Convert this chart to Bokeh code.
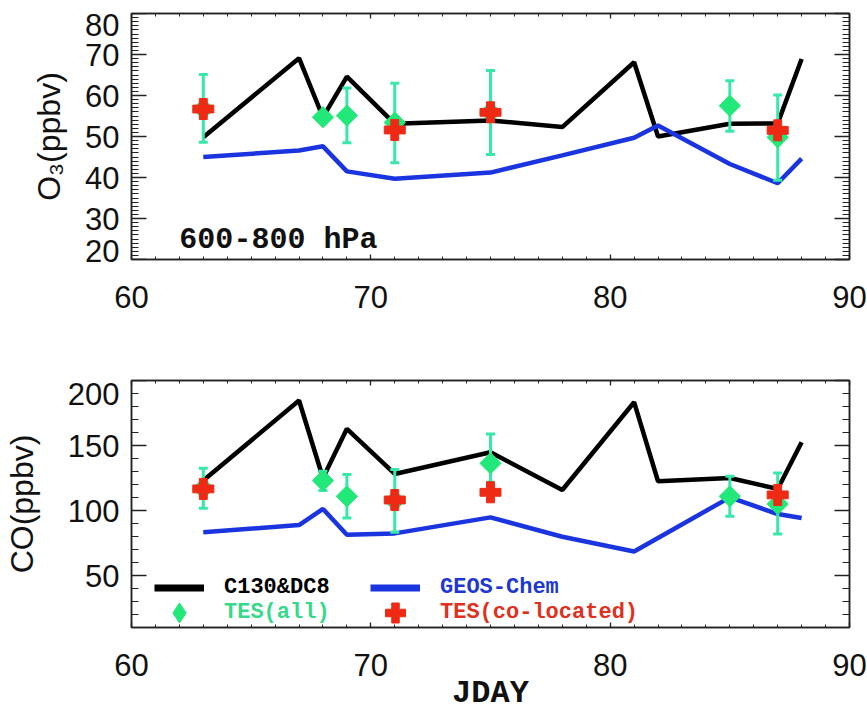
import math
from bokeh.plotting import figure
from bokeh.models import (Range1d, FixedTicker, Label, Legend, LegendItem, ColumnDataSource, LinearAxis)
from bokeh.layouts import column
from bokeh.embed import file_html
from bokeh.resources import INLINE

# ---------------- data ----------------
days = [63, 67, 68, 69, 71, 75, 78, 81, 82, 85, 87, 88]
o3_obs = [49.8, 69.1, 54.7, 64.6, 53.1, 53.9, 52.3, 68.1, 50.0, 53.1, 53.2, 68.9]
o3_model = [45.0, 46.6, 47.6, 41.5, 39.7, 41.2, 45.4, 49.7, 52.7, 43.3, 38.6, 44.6]
co_obs = [123.0, 184.6, 125.0, 162.8, 128.1, 144.8, 115.8, 183.3, 122.5, 125.0, 116.6, 152.5]
co_model_days = [63, 67, 68, 69, 71, 75, 78, 81, 85, 87, 88]
co_model = [83.2, 88.8, 101.2, 81.4, 82.4, 94.7, 79.8, 68.5, 110.1, 97.3, 94.2]

tes_days = [63, 68, 69, 71, 75, 85, 87]
o3_tes = [56.7, 54.7, 55.1, 53.4, 55.9, 57.5, 49.8]
o3_tes_low = [48.6, 53.9, 48.5, 43.6, 45.6, 51.3, 39.3]
o3_tes_high = [65.1, 55.5, 61.8, 63.0, 66.1, 63.6, 60.1]
co_tes = [117.0, 123.0, 110.9, 107.6, 136.3, 110.9, 105.0]
co_tes_low = [101.7, 115.3, 94.2, 83.2, 121.7, 95.5, 81.9]
co_tes_high = [132.5, 130.2, 127.6, 131.5, 158.9, 126.3, 128.9]

colo_days = [63, 71, 75, 87]
o3_colo = [56.7, 51.6, 55.9, 51.5]
co_colo = [116.6, 108.1, 114.0, 112.0]

x_range = [60, 90]
x_ticks = [60, 70, 80, 90]
x_minor = list(range(60, 91))
o3_range = [20, 80]
o3_ticks = [20, 30, 40, 50, 60, 70, 80]
o3_minor = list(range(20, 81))
# the end labels sit just inside the frame, as in the original
o3_label_pos = [22.1, 30, 40, 50, 60, 70, 77.1]
o3_label_text = ["20", "30", "40", "50", "60", "70", "80"]
co_range = [10, 200]
co_ticks = [50, 100, 150, 200]
co_minor = list(range(10, 201, 10))
co_label_pos = [50, 100, 150, 189.6]
co_label_text = ["50", "100", "150", "200"]

series_names = ["C130&DC8", "GEOS-Chem", "TES(all)", "TES(co-located)"]
o3_title = "O\u2083(ppbv)"
co_title = "CO(ppbv)"
x_title = "JDAY"
layer_text = "600-800 hPa"

# ---------------- style ----------------
BLACK = "#000000"
BLUE = "#1a35e0"
GREEN = "#22e87a"
MINT = "#38e8a8"
GREEN_TXT = "#36d98a"
RED = "#ee2a15"
RED_TXT = "#e03020"
BLUE_TXT = "#2038d0"
AXC = "#222222"
SANS = "Liberation Sans"
MONO = "Liberation Mono"
TICK_FS = "31px"
NAN = float("nan")
FW = 718


def tick_style(ax, tin, mtin):
    ax.major_tick_in = tin
    ax.major_tick_out = 0
    ax.minor_tick_in = mtin
    ax.minor_tick_out = 0
    ax.major_tick_line_color = AXC
    ax.major_tick_line_width = 1.3
    ax.minor_tick_line_color = AXC
    ax.minor_tick_line_width = 1
    ax.axis_line_color = AXC
    ax.axis_line_width = 1.5


def mirror_axis(ticks, minor, tin, mtin):
    ax = LinearAxis(ticker=FixedTicker(ticks=ticks, minor_ticks=minor))
    tick_style(ax, tin, mtin)
    ax.major_label_text_color = None
    ax.major_label_text_font_size = "8px"
    ax.major_label_standoff = 0
    return ax


def make_fig(yr, fh, top, bottom, yticks, yminor, lpos, ltext, ytitle, ystand, xstand,
             xtitle=None, xtstand=0):
    p = figure(frame_width=FW, frame_height=fh, x_range=Range1d(*x_range), y_range=Range1d(*yr),
               output_backend="svg", toolbar_location=None, min_border_left=130, min_border_right=19,
               min_border_top=top, min_border_bottom=bottom)
    p.outline_line_color = AXC
    p.outline_line_width = 1.5
    p.grid.visible = False
    bx = p.xaxis[0]
    bx.ticker = FixedTicker(ticks=x_ticks, minor_ticks=x_minor)
    tick_style(bx, 5, 3)
    bx.major_label_text_font = SANS
    bx.major_label_text_font_size = TICK_FS
    bx.major_label_text_color = "#111111"
    bx.major_label_standoff = xstand
    if xtitle:
        bx.axis_label = xtitle
        bx.axis_label_text_font = MONO
        bx.axis_label_text_font_style = "bold"
        bx.axis_label_text_font_size = "32px"
        bx.axis_label_standoff = xtstand
        bx.axis_label_text_color = "#111111"
    ly = p.yaxis[0]
    # labels at lpos; all tick positions also carried as 7px minor ticks
    ly.ticker = FixedTicker(ticks=lpos, minor_ticks=yminor)
    tick_style(ly, 0, 7)
    ly.major_label_overrides = dict(zip(lpos, ltext))
    ly.major_label_text_font = SANS
    ly.major_label_text_font_size = TICK_FS
    ly.major_label_text_color = "#111111"
    ly.major_label_standoff = 12
    ly.axis_label = ytitle
    ly.axis_label_text_font = SANS
    ly.axis_label_text_font_style = "normal"
    ly.axis_label_text_font_size = "32px"
    ly.axis_label_standoff = ystand
    ly.axis_label_text_color = "#111111"
    p.add_layout(mirror_axis(yticks, yminor, 15, 7), "right")
    p.add_layout(mirror_axis(x_ticks, x_minor, 5, 3), "above")
    # full-length major ticks on the left edge
    xs = (x_range[1] - x_range[0]) / FW
    p.segment([x_range[0]] * len(yticks), yticks, [x_range[0] + 15 * xs] * len(yticks), yticks,
              line_color=AXC, line_width=1.3)
    return p


def draw_series(p, obs, mdays, model, tes, lo, hi, colo):
    p.line(days, obs, line_color=BLACK, line_width=4.5)
    p.line(mdays, model, line_color=BLUE, line_width=4.5)
    src = ColumnDataSource(dict(x=tes_days, y=tes, lo=lo, hi=hi))
    p.segment(x0="x", y0="lo", x1="x", y1="hi", source=src, line_color=MINT, line_width=3)
    p.scatter(x="x", y="lo", source=src, marker="dash", size=9, line_color=MINT, line_width=3)
    p.scatter(x="x", y="hi", source=src, marker="dash", size=9, line_color=MINT, line_width=3)
    p.scatter(x="x", y="y", source=src, marker="square", angle=math.pi / 4, size=15,
              fill_color=GREEN, line_color=GREEN)
    p.scatter(colo_days, colo, marker="plus", size=21, fill_color=RED, line_color=RED)


# ---------------- top panel (O3) ----------------
p1 = make_fig(o3_range, 246, 13, 60, o3_ticks, o3_minor, o3_label_pos, o3_label_text,
              o3_title, 15, 26)
draw_series(p1, o3_obs, days, o3_model, o3_tes, o3_tes_low, o3_tes_high, o3_colo)
p1.add_layout(Label(x=62, y=24.7, text=layer_text, text_font=MONO, text_font_style="bold",
                    text_font_size="30px", text_baseline="alphabetic", text_color="#111111"))

# ---------------- bottom panel (CO) ----------------
p2 = make_fig(co_range, 247, 61, 87, co_ticks, co_minor, co_label_pos, co_label_text,
              co_title, 25, 26, x_title, -4)
draw_series(p2, co_obs, co_model_days, co_model, co_tes, co_tes_low, co_tes_high, co_colo)

# legend keys (invisible NaN renderers used only for the legend symbols)
lk = p2.line([NAN, NAN], [NAN, NAN], line_color=BLACK, line_width=7)
lb = p2.line([NAN, NAN], [NAN, NAN], line_color=BLUE, line_width=7)
ld = p2.scatter([NAN], [NAN], marker="diamond", fill_color=GREEN, line_color=GREEN)
lc = p2.scatter([NAN], [NAN], marker="plus", fill_color=RED, line_color=RED)

legend_specs = [
    (series_names[0], lk, BLACK, (23, 12)),
    (series_names[1], lb, BLUE_TXT, (239, 12)),
    (series_names[2], ld, GREEN_TXT, (23, -13)),
    (series_names[3], lc, RED_TXT, (239, -13)),
]
for name, rend, col, loc in legend_specs:
    lg = Legend(items=[LegendItem(label=name, renderers=[rend])], location=loc,
                glyph_width=50, glyph_height=55, label_height=25, label_standoff=20,
                padding=0, margin=0, spacing=0, border_line_color=None,
                background_fill_alpha=0, label_text_font=MONO, label_text_font_style="bold",
                label_text_font_size="22px", label_text_color=col)
    p2.add_layout(lg, "center")

layout = column(p1, p2)

open("out.html", "w").write(file_html(layout, INLINE))
